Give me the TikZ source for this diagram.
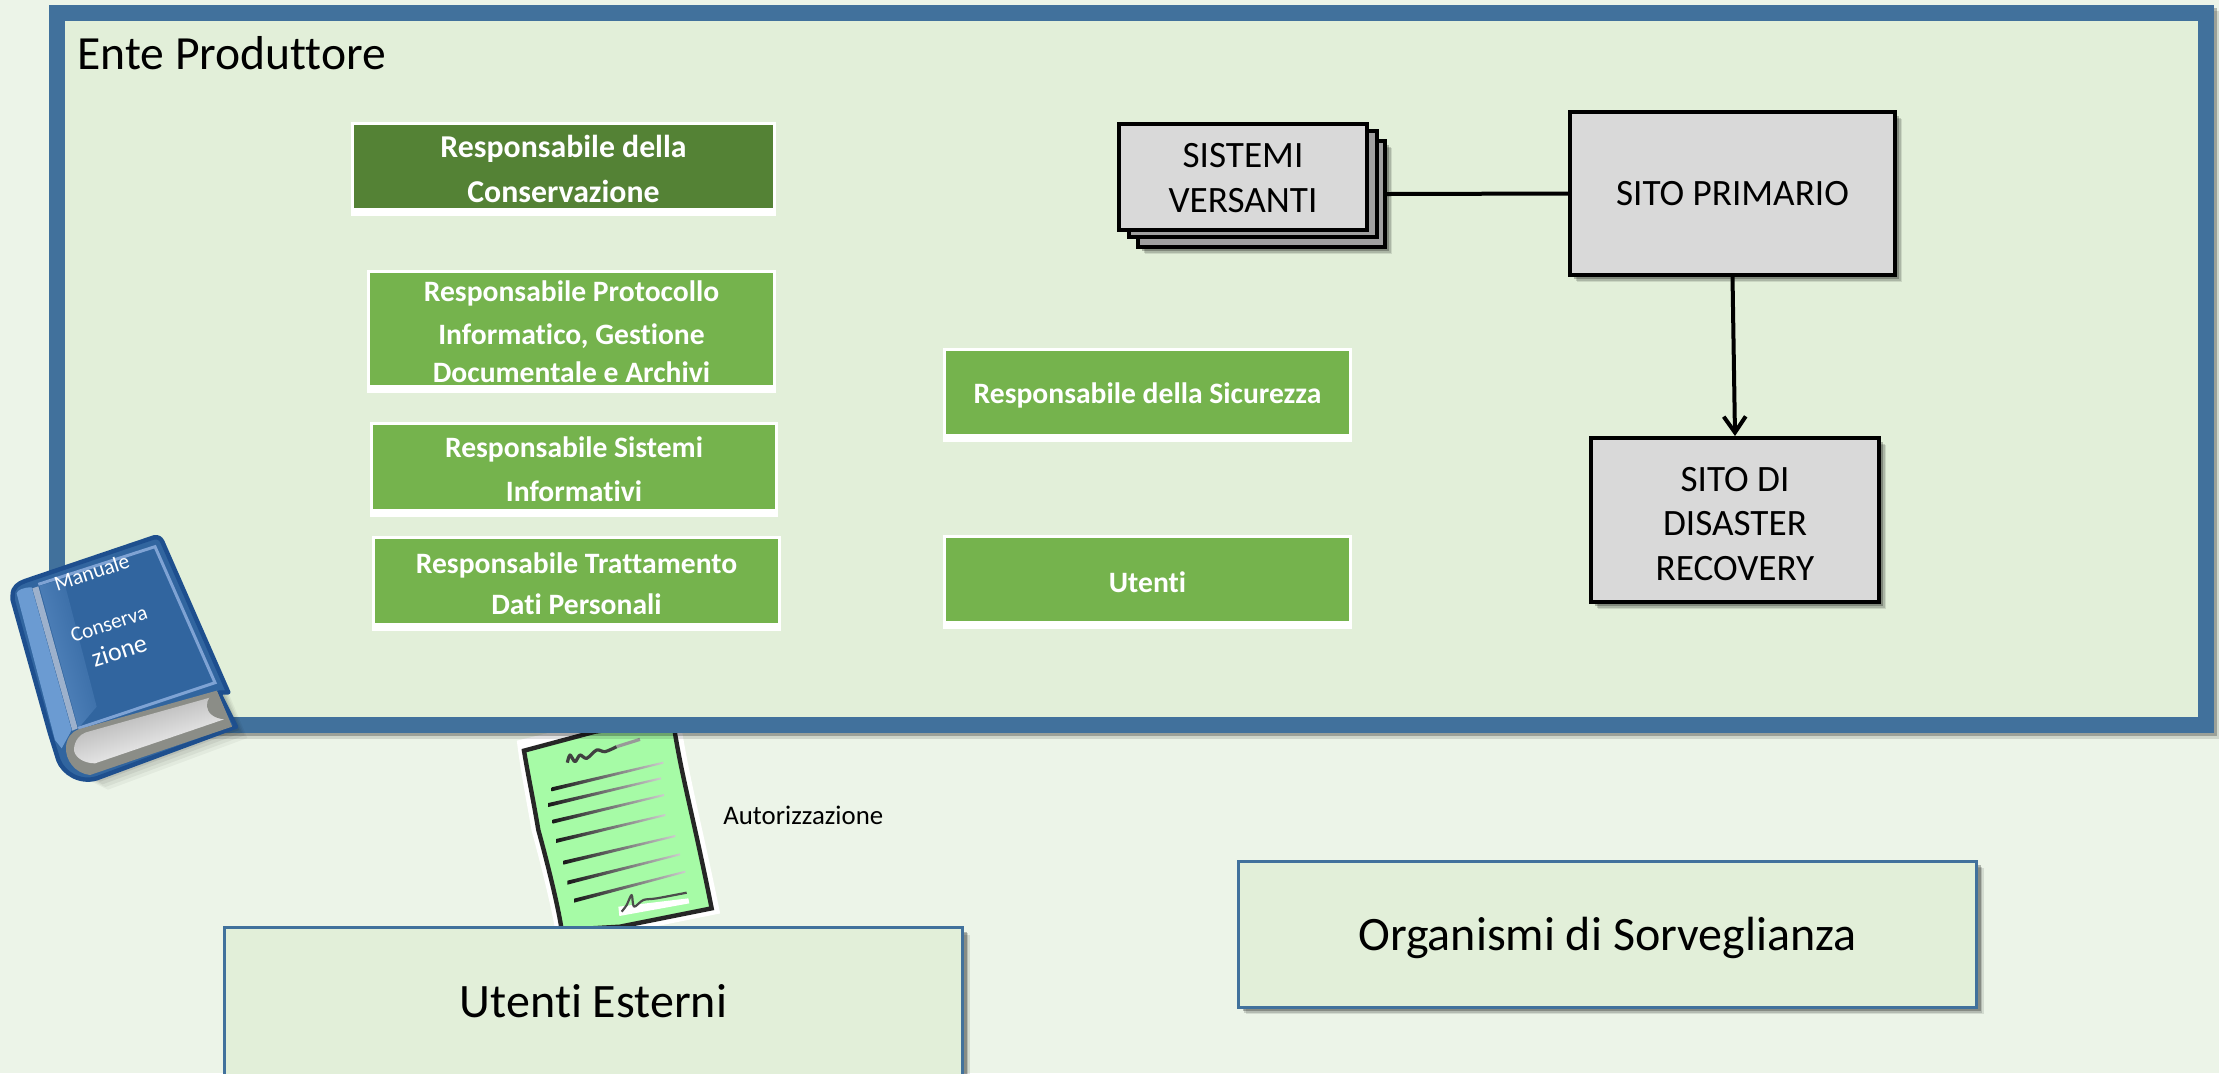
\documentclass[tikz,border=0pt]{standalone}
\usepackage{fontspec}
\setmainfont[Ligatures=NoCommon]{Carlito}
\usetikzlibrary{shadows,arrows.meta}
\definecolor{pagebg}{HTML}{ECF4E8}
\definecolor{panel}{HTML}{E2EFD9}
\definecolor{steel}{HTML}{41719C}
\definecolor{grdark}{HTML}{548235}
\definecolor{grlight}{HTML}{75B34D}
\definecolor{boxgray}{HTML}{D9D9D9}
\definecolor{midgray}{HTML}{A0A0A0}
\definecolor{cover}{HTML}{31659F}
\definecolor{coverline}{HTML}{1E4F8E}
\definecolor{coverlight}{HTML}{7FA3D4}
\definecolor{spinelight}{HTML}{6B9BD2}
\definecolor{spinestripe}{HTML}{9DB1CC}
\definecolor{pagegray}{HTML}{8B8D87}
\definecolor{paper}{HTML}{A6FBA6}
\newcommand{\docline}[4]{\shade[left color=black!90,right color=black!20] (#1,#2-6) -- (#3,#4-3) -- (#3,#4+3) -- (#1,#2+6) -- cycle;}
\tikzset{
  softsh/.style={
    general shadow={fill=black,opacity=.10,shadow xshift=3.6pt,shadow yshift=-3.6pt},
    general shadow={fill=black,opacity=.15,shadow xshift=2.8pt,shadow yshift=-2.8pt},
    general shadow={fill=black,opacity=.25,shadow xshift=2pt,shadow yshift=-2pt}},
  softframe/.style={
    general shadow={draw=black,fill=none,opacity=.12,shadow xshift=3pt,shadow yshift=-3pt},
    general shadow={draw=black,fill=none,opacity=.25,shadow xshift=1.6pt,shadow yshift=-1.6pt}},
  gbox/.style={rectangle,fill=white,inner sep=0pt,text=white,align=center,
    font=\bfseries\fontsize{14.8pt}{22pt}\selectfont,
    path picture={\fill[#1] ([xshift=1.5pt,yshift=-1.5pt]path picture bounding box.north west)
      rectangle ([xshift=-1.5pt,yshift=4pt]path picture bounding box.south east);}},
  graybox/.style={rectangle,draw=black,line width=2pt,fill=boxgray,inner sep=0pt,align=center,
    font=\fontsize{18.6pt}{22.4pt}\selectfont},
  bluebox/.style={rectangle,draw=steel,line width=1.5pt,fill=panel,inner sep=0pt,
    font=\fontsize{24pt}{29pt}\selectfont},
  wire/.style={draw=black,line width=2pt,line cap=round},
  booktext/.style={text=white,inner sep=0pt,rotate=18}
}
\begin{document}
\begin{tikzpicture}[x=.5pt,y=-.5pt]
\useasboundingbox (0,0) rectangle (2219,1073);
\clip (0,0) rectangle (2219,1073);
\fill[pagebg] (0,0) rectangle (2219,1073);

% authorisation sheet (partly behind the panel and the lower box)
\begin{scope}[shift={(480,700)},scale=1/3]
  \draw[white,line width=3.5pt,fill=white] (122,130) -- (345,75) -- (590,60) .. controls (620,250) and (650,350) .. (708,632) -- (420,690) -- (238,700) .. controls (225,620) and (190,480) .. (165,390) .. controls (150,300) and (135,230) .. (122,130) -- cycle;
  \draw[black!85,line width=2.2pt,fill=paper] (132,152) -- (345,95) -- (580,60) -- (585,100) .. controls (610,250) and (640,350) .. (695,625) -- (420,680) -- (245,690) .. controls (235,620) and (200,480) .. (175,390) .. controls (160,300) and (145,230) .. (132,152) -- cycle;
  \docline{215}{268}{550}{188}
  \docline{205}{315}{543}{235}
  \docline{218}{365}{552}{285}
  \docline{228}{423}{556}{345}
  \docline{250}{488}{586}{408}
  \docline{262}{548}{600}{463}
  \docline{282}{602}{616}{515}
  \draw[black!75,line width=1.6pt,line join=round] plot[smooth] coordinates {(262,188) (270,165) (285,185) (300,165) (320,175) (350,150) (375,155) (410,140)};
  \draw[black!40,line width=1.6pt] (410,140) -- (480,118);
  \fill[white] (415,620) -- (625,595) -- (628,610) -- (418,648) -- cycle;
  \draw[black!70,line width=1.1pt,line join=round] plot[smooth] coordinates {(425,635) (440,615) (455,585) (462,620) (490,600) (530,595) (620,578)};
\end{scope}

% main panel
\node[rectangle,draw=steel,line width=8pt,fill=panel,inner sep=0pt,softframe,
  minimum width=1074.5pt,minimum height=356pt] (ente) at (1131.5,369) {};
\node[anchor=base west,inner sep=0pt,font=\fontsize{23.8pt}{29pt}\selectfont] (entelabel) at (77,69) {Ente Produttore};

% people
\node[gbox=grdark,minimum width=212.5pt,minimum height=47pt,font=\bfseries\fontsize{15.9pt}{22pt}\selectfont] (cons) at (563.5,169)
  {Responsabile della\\[0.5pt]Conservazione};
\node[gbox=grlight,minimum width=204.5pt,minimum height=61.5pt] (prot) at (571.5,331.5)
  {Responsabile Protocollo\\[-0.5pt]Informatico, Gestione\\[-3pt]Documentale e Archivi};
\node[gbox=grlight,minimum width=204pt,minimum height=47.5pt] (sist) at (574,469.5)
  {Responsabile Sistemi\\Informativi};
\node[gbox=grlight,minimum width=204.5pt,minimum height=47.5pt] (trat) at (576.5,583.5)
  {Responsabile Trattamento\\[-1.5pt]Dati Personali};
\node[gbox=grlight,minimum width=204.5pt,minimum height=47pt] (sicu) at (1147.5,395)
  {Responsabile della Sicurezza};
\node[gbox=grlight,minimum width=204.5pt,minimum height=47pt] (uten) at (1147.5,582)
  {Utenti};

% systems
\node[graybox,softsh,fill=midgray,minimum width=123.5pt,minimum height=53pt] (back) at (1261.5,194) {};
\node[graybox,fill=midgray,minimum width=124pt,minimum height=53pt] (mid) at (1253,184) {};
\node[graybox,minimum width=124pt,minimum height=53pt] (front) at (1243,177) {\rule{0pt}{13.5pt}SISTEMI\\VERSANTI};
\node[graybox,softsh,minimum width=162.5pt,minimum height=81.5pt] (prim) at (1732.5,193.5) {SITO PRIMARIO};
\node[graybox,softsh,minimum width=144pt,minimum height=82pt] (dr) at (1735,520) {\rule{0pt}{16pt}SITO DI\\DISASTER\\RECOVERY};
\draw[wire] (back.east) -- (prim.west);
\draw[wire,-{Straight Barb[length=8pt,width=11pt]}] (prim.south) -- (dr.north);

% lower boxes
\node[bluebox,softsh,minimum width=369pt,minimum height=74.5pt,text height=17.5pt,text depth=2.5pt] (esterni) at (593.5,1002) {Utenti Esterni};
\node[bluebox,softsh,minimum width=369pt,minimum height=73pt,text height=18pt,text depth=2pt] (organismi) at (1607.5,934) {Organismi di Sorveglianza};
\node[anchor=base west,inner sep=0pt,font=\fontsize{13.4pt}{16pt}\selectfont] (aut) at (723,824) {Autorizzazione};

% book
\begin{scope}[shift={(0,500)},scale=1/3]
  \foreach \s/\o in {34/.04,26/.05,18/.06,10/.08}{
    \fill[black,opacity=\o] (38+\s,285+\s) -- (470+\s,112+\s) -- (708+\s,680+\s) -- (290+\s,835+\s) -- (175+\s,780+\s) -- cycle;
  }
  \draw[coverline,line width=2.2pt,line join=round,fill=cover]
    (38,285) .. controls (38,262) and (55,250) .. (75,243) -- (462,112) .. controls (475,110) and (482,115) .. (487,125)
    -- (685,577) -- (657,578) -- (708,680) -- (290,835) .. controls (240,850) and (190,820) .. (175,780) -- (150,700) -- (38,300) -- cycle;
  \fill[spinelight] (50,280) .. controls (52,270) and (70,262) .. (95,262) -- (215,690) -- (185,745) -- (165,720) -- cycle;
  \shade[left color=spinelight!70!cover,right color=cover,shading angle=106] (118,258) -- (190,235) -- (290,620) -- (235,685) -- cycle;
  \fill[spinestripe] (97,265) -- (115,259) -- (233,685) -- (217,692) -- cycle;
  \draw[coverlight,line width=1.5pt] (115,253) -- (465,140) -- (645,548) -- (235,685);
  \fill[pagegray] (198,740) .. controls (200,715) and (215,695) .. (235,688) -- (650,572) -- (696,680) -- (270,825) .. controls (225,820) and (195,780) .. (198,740) -- cycle;
  \shade[top color=black!35,bottom color=white,shading angle=17] (222,745) .. controls (225,720) and (240,703) .. (258,697) -- (640,590) -- (672,658) -- (285,790) .. controls (250,790) and (220,770) .. (222,745) -- cycle;
  \fill[pagegray] (652,575) .. controls (610,590) and (605,650) .. (672,658) -- (696,680) -- cycle;
  \node[booktext,font=\fontsize{10.8pt}{13pt}\selectfont] (bk1) at (275,217) {Manuale};
  \node[booktext,font=\fontsize{10.6pt}{13pt}\selectfont] (bk2) at (327,372) {Conserva};
  \node[booktext,font=\fontsize{13pt}{15pt}\selectfont] (bk3) at (357,452) {zione};
\end{scope}
\end{tikzpicture}
\end{document}
